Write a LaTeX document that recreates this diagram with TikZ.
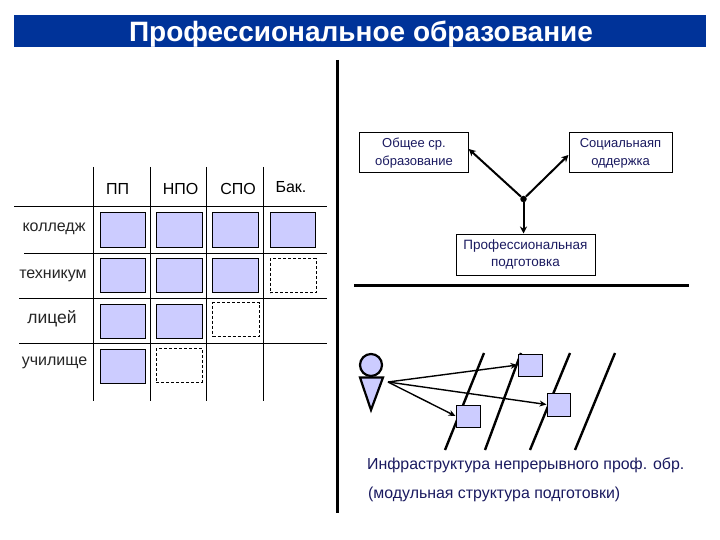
\documentclass[tikz,border=0pt]{standalone}
\usepackage{fontspec}
\setmainfont{Liberation Sans}
\usetikzlibrary{arrows.meta}
\definecolor{barblue}{HTML}{003399}
\definecolor{cellblue}{HTML}{CCCCFF}
\definecolor{navytext}{HTML}{1A1A60}
\tikzset{x=1pt,y=-1pt,
 gridline/.style={black,line width=1pt},
 fullcell/.style={draw=black,fill=cellblue,line width=1pt},
 openbox/.style={draw=black,fill=white,dash pattern=on 3pt off 2pt,line width=0.9pt},
 lbl/.style={inner sep=0pt,anchor=base,font=\fontsize{16}{17}\selectfont,text=black!85},
 hdr/.style={inner sep=0pt,anchor=base,font=\fontsize{16}{17}\selectfont,text=black},
 infobox/.style={draw=black,fill=white,line width=1pt,align=center,inner sep=0pt,font=\fontsize{13.5}{17.5}\selectfont,text=navytext},
 heavy/.style={black,line width=3pt},
 slant/.style={black,line width=2.4pt},
 linkarrow/.style={black,line width=2pt,-{Stealth[length=7pt,width=7pt]}},
 thinarrow/.style={black,line width=1.4pt,-{Stealth[length=7pt,width=6pt]}},
 captext/.style={inner sep=0pt,anchor=base west,font=\fontsize{15.9}{17}\selectfont,text=navytext},
}
\newcommand{\cellbox}[6]{\node[#6,rectangle,inner sep=0pt,fit box={#2}{#3}{#4}{#5}] (#1) {};}
\tikzset{fit box/.code n args={4}{%
 \pgfmathsetlengthmacro{\bw}{#3-#1}\pgfmathsetlengthmacro{\bh}{#4-#2}%
 \tikzset{minimum width=\bw,minimum height=\bh,at={({(#1+#3)/2},{(#2+#4)/2})}}}}
\begin{document}
\begin{tikzpicture}
\useasboundingbox (0,0) rectangle (720,540);
\fill[white] (0,0) rectangle (720,540);
\node[fill=barblue,inner sep=0pt,minimum width=692pt,minimum height=32pt] (title) at (360,31) {};
\node[inner sep=0pt,anchor=base,text=white,font=\bfseries\fontsize{28}{30}\selectfont] (titletext) at (361,42) {Профессиональное образование};

% divider lines
\coordinate (divT) at (337.5,60); \coordinate (divB) at (337.5,513);
\draw[heavy] (divT) -- (divB);
\coordinate (hrL) at (354,285); \coordinate (hrR) at (689,285);
\draw[heavy] (hrL) -- (hrR);

% grid
\foreach \n/\x in {a/93.5,b/150.5,c/206.5,d/263.5}{
 \coordinate (v\n T) at (\x,167); \coordinate (v\n B) at (\x,401);
 \draw[gridline] (v\n T) -- (v\n B);}
\foreach \n/\x/\y in {a/14/207,b/24/253,c/19/298,d/19/343}{
 \coordinate (h\n L) at (\x,\y); \coordinate (h\n R) at (327,\y);
 \draw[gridline] (h\n L) -- (h\n R);}

\node[hdr] (h1) at (117.5,195) {ПП};
\node[hdr] (h2) at (180.5,195) {НПО};
\node[hdr] (h3) at (238,195) {СПО};
\node[hdr] (h4) at (291,193) {Бак.};
\node[lbl] (r1) at (54,232) {колледж};
\node[lbl] (r2) at (53,278) {техникум};
\node[lbl,font=\fontsize{17.5}{17}\selectfont] (r3) at (52,323) {лицей};
\node[lbl] (r4) at (54.5,365) {училище};

\cellbox{c11}{100}{213}{145}{247}{fullcell}
\cellbox{c12}{156}{213}{202}{247}{fullcell}
\cellbox{c13}{212.5}{213}{258}{247}{fullcell}
\cellbox{c14}{270}{213}{315}{247}{fullcell}
\cellbox{c21}{100}{258.5}{145}{292.5}{fullcell}
\cellbox{c22}{156}{258.5}{202}{292.5}{fullcell}
\cellbox{c23}{212.5}{258.5}{258}{292.5}{fullcell}
\cellbox{c24}{270}{258.5}{316}{292.5}{openbox}
\cellbox{c31}{100}{304.5}{145}{338.5}{fullcell}
\cellbox{c32}{156}{304.5}{202}{338.5}{fullcell}
\cellbox{c33}{212.5}{302.5}{259}{336.5}{openbox}
\cellbox{c41}{100}{349.5}{145}{383}{fullcell}
\cellbox{c42}{156}{348.5}{202}{382}{openbox}

% top-right diagram
\node[infobox,minimum width=108.5pt,minimum height=40pt,font=\fontsize{13}{18}\selectfont] (gen) at (414,153) {Общее ср.\\образование};
\node[infobox,minimum width=103pt,minimum height=40pt,font=\fontsize{13}{18}\selectfont] (soc) at (620.5,153) {Социальнаяп\\оддержка};
\node[infobox,minimum width=139pt,minimum height=41pt] (prof) at (525.5,254.5) {Профессиональная\\подготовка};
\node[circle,fill=black,inner sep=0pt,minimum size=6.5pt] (hub) at (523.5,199) {};
\draw[linkarrow] (hub) -- (gen.east |- 0,149);
\draw[linkarrow] (hub) -- (soc.west |- 0,155);
\draw[linkarrow] (hub) -- (prof.north -| hub);

% bottom-right diagram
\draw[slant] (484,353) -- (445,450);
\draw[slant] (521,353) -- (485,450);
\draw[slant] (570,353) -- (530,450);
\draw[slant] (615,353) -- (575,450);
\node[circle,draw=black,fill=cellblue,line width=2.2pt,inner sep=0pt,minimum size=22pt] (head) at (371,365) {};
\draw[black,fill=cellblue,line width=2.2pt,line join=miter] (360,377.5) -- (383,377.5) -- (371,410) -- cycle;
\cellbox{sa}{518}{354}{542}{376}{fullcell}
\cellbox{sb}{547}{393}{570}{416}{fullcell}
\cellbox{sc}{456}{405}{480}{427}{fullcell}
\coordinate (src) at (388,382);
\draw[thinarrow] (src) -- (sa.west);
\draw[thinarrow] (src) -- (sb.west);
\draw[thinarrow] (src) -- (sc.west);
\node[captext] (cap1) at (367,469) {Инфраструктура непрерывного проф. обр.};
\node[captext] (cap2) at (368,498) {(модульная структура подготовки)};
\end{tikzpicture}
\end{document}
